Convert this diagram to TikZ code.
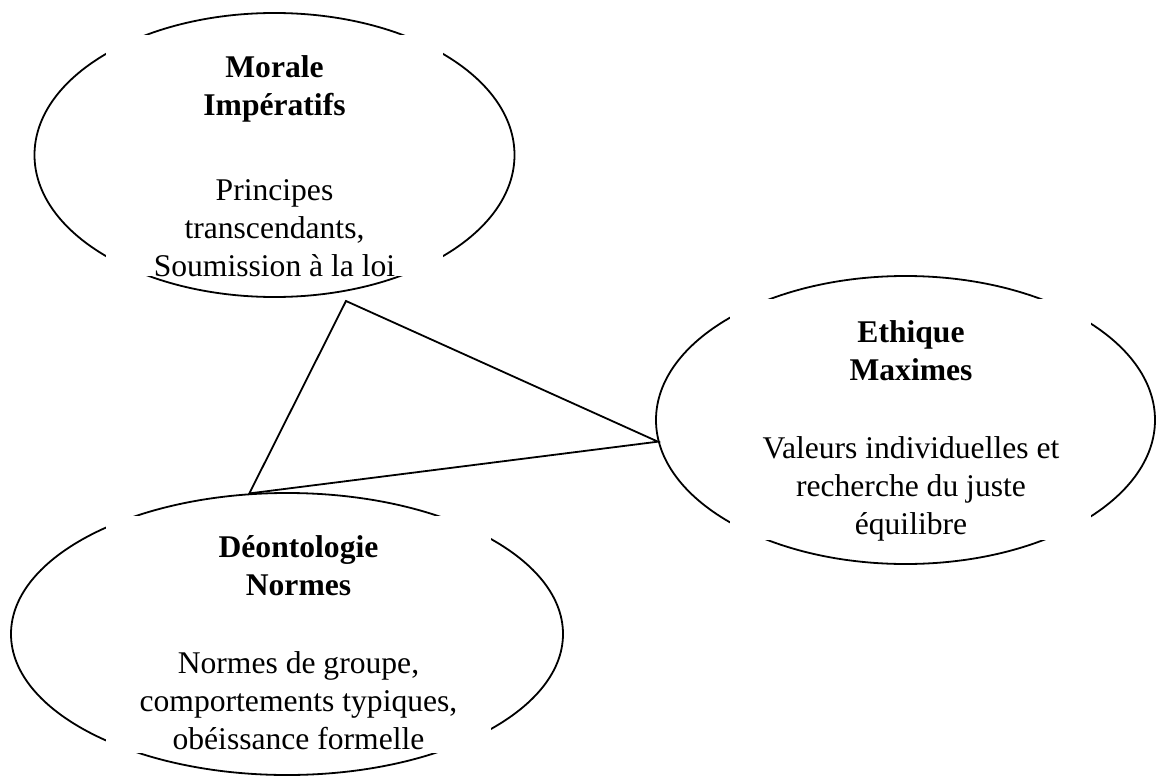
\documentclass[tikz,border=0pt]{standalone}
\usepackage{fontspec}
\setmainfont{Liberation Serif}
\usetikzlibrary{shapes.geometric}

\tikzset{
	oval/.style={draw, ellipse, line width=0.9pt, inner sep=0pt},
	textbox/.style={fill=white, inner sep=0pt},
	bubbletext/.style={align=center, inner sep=0pt, anchor=north, font=\fontsize{15.8}{19}\selectfont}
}

\begin{document}
\begin{tikzpicture}[x=0.5pt, y=-0.5pt]
	\useasboundingbox (0,0) rectangle (1157,776);

	% the three ellipses
	\node[oval, minimum width=240pt, minimum height=142pt] (morale) at (274.5,155) {};
	\node[oval, minimum width=249.5pt, minimum height=144pt] (ethique) at (905.5,420) {};
	\node[oval, minimum width=276pt, minimum height=141pt] (deonto) at (287,634) {};

	% white text boxes over the outlines
	\node[textbox, minimum width=168.5pt, minimum height=120.5pt] (moralebox) at (274.5,155.5) {};
	\node[textbox, minimum width=180.5pt, minimum height=120.5pt] (ethiquebox) at (910.5,419.5) {};
	\node[textbox, minimum width=192.5pt, minimum height=118.5pt] (deontobox) at (298.5,634.5) {};

	\node[bubbletext] (moraletxt) at (274.5,55) {\textbf{Morale}\\\textbf{Impératifs}\\[23.5pt]Principes\\transcendants,\\Soumission à la loi};
	\node[bubbletext] (ethiquetxt) at (911,320) {\textbf{Ethique}\\\textbf{Maximes}\\[20pt]Valeurs individuelles et\\recherche du juste\\équilibre};
	\node[bubbletext] (deontotxt) at (298.5,535) {\textbf{Déontologie}\\\textbf{Normes}\\[20pt]Normes de groupe,\\comportements typiques,\\obéissance formelle};

	% triangle
	\coordinate (apex) at (346,301);
	\draw[line width=0.9pt] (apex) -- (deonto.105) -- (ethique.185) -- cycle;
\end{tikzpicture}
\end{document}
